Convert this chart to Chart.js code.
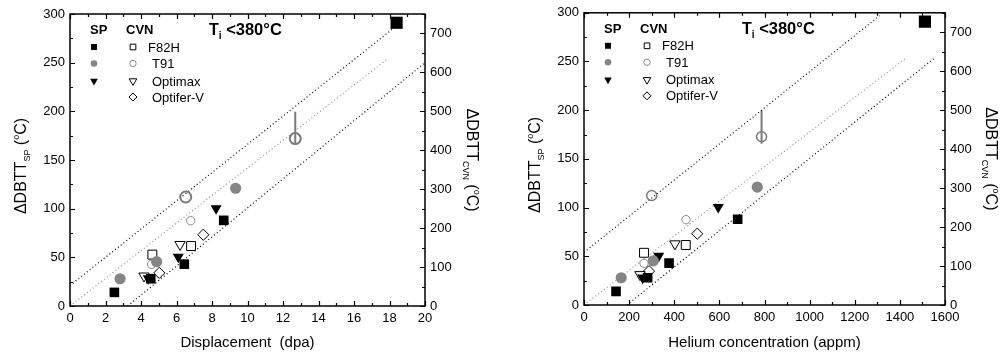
<!DOCTYPE html>
<html>
<head>
<meta charset="utf-8">
<script src="https://cdn.jsdelivr.net/npm/chart.js@4.4.0/dist/chart.umd.min.js"></script>
<style>
  html, body { margin: 0; padding: 0; background: #fff; }
  #wrap { position: relative; width: 1001px; height: 356px; }
  canvas { position: absolute; top: 0; }
  #c1 { left: 0; }
  #c2 { left: 500px; }
</style>
</head>
<body>
<div id="wrap">
  <canvas id="c1" width="500" height="356"></canvas>
  <canvas id="c2" width="501" height="356"></canvas>
</div>
<script>
/* ---------- data: displacement panel (dpa) ---------- */
// SP (左軸, °C)
const dpaF82hSP = [2.5, 4.55, 6.44, 8.66, 18.4];
const spF82hDpa = [14, 28, 43, 88, 291];
const dpaT91SP = [2.82, 4.88, 9.33];
const spT91Dpa = [28, 45.5, 121];
const dpaOptimaxSP = [4.41, 6.1, 8.23];
const spOptimaxDpa = [28.3, 50.5, 100.2];
// CVN (右軸, °C)
const dpaF82hCVN = [4.64, 6.82];
const cvnF82hDpa = [132, 154];
const dpaT91CVN = [4.6, 6.8];
const cvnT91Dpa = [107, 219];
const dpaT91CVNbig = [6.52, 12.69];
const cvnT91BigDpa = [280, 430];
const dpaOptimaxCVN = [4.17, 6.2];
const cvnOptimaxDpa = [77, 158];
const dpaOptiferCVN = [5.03, 7.51];
const cvnOptiferDpa = [85, 183];
// error bar (CVN)
const dpaErr = [12.69];
const errLoDpa = [414];
const errHiDpa = [499];
// trend lines (SP)
const dpaUpperLine = [0, 18.2];
const spUpperLine = [21, 285];
const dpaMidLine = [0, 17.9];
const spMidLine = [0, 254];
const dpaLowerLine = [3.25, 20];
const spLowerLine = [0, 250];

/* ---------- data: helium panel (appm) ---------- */
const heF82hSP = [142, 282, 377, 681, 1511];
const spF82hHe = [14, 28, 43, 88, 291];
const heT91SP = [165, 307, 768];
const spT91He = [28, 45.4, 121];
const heOptimaxSP = [260, 331, 595];
const spOptimaxHe = [28, 50.3, 100.5];
const heF82hCVN = [266, 451];
const cvnF82hHe = [134, 154];
const heT91CVN = [266, 452];
const cvnT91He = [107, 219];
const heT91CVNbig = [300, 787];
const cvnT91BigHe = [281, 432];
const heOptimaxCVN = [248, 403];
const cvnOptimaxHe = [78, 157];
const heOptiferCVN = [288, 502];
const cvnOptiferHe = [87, 183];
const heErr = [787];
const errLoHe = [414];
const errHiHe = [500];
const heUpperLine = [0, 1310];
const spUpperLineHe = [54, 297];
const heMidLine = [0, 1430];
const spMidLineHe = [0, 254];
const heLowerLine = [190, 1556];
const spLowerLineHe = [0, 254];

// 凡例
const legendNames = ["F82H", "T91", "Optimax", "Optifer-V"];

/* ---------- 共通 ---------- */
const FONT = '"Liberation Sans", Arial, Helvetica, sans-serif';
const GRAY = "#858585";

function pts(xs, ys) {
  return xs.map((x, i) => ({ x: x, y: ys[i] }));
}

function drawParts(ctx, parts, x, y, align) {
  // parts: [text, size, bold, dy]
  let w = 0;
  parts.forEach(p => {
    ctx.font = (p[2] ? "bold " : "") + p[1] + "px " + FONT;
    p.w = ctx.measureText(p[0]).width;
    w += p.w;
  });
  let cx = align === "center" ? x - w / 2 : x;
  ctx.textAlign = "left";
  ctx.textBaseline = "alphabetic";
  parts.forEach(p => {
    ctx.font = (p[2] ? "bold " : "") + p[1] + "px " + FONT;
    ctx.fillText(p[0], cx, y + (p[3] || 0));
    cx += p.w;
  });
}

function symbol(ctx, style, x, y) {
  ctx.save();
  ctx.fillStyle = style.fill;
  ctx.strokeStyle = style.stroke;
  ctx.lineWidth = style.bw;
  Chart.helpers.drawPoint(ctx, {
    pointStyle: style.shape,
    radius: style.r,
    rotation: style.rot || 0,
    borderWidth: style.bw
  }, x, y);
  ctx.restore();
}

function lineSet(xs, ys, color) {
  return {
    type: "line",
    data: pts(xs, ys),
    yAxisID: "y",
    borderColor: color,
    borderWidth: 1.2,
    borderDash: [1, 2.6],
    pointRadius: 0,
    fill: false,
    order: 10
  };
}

function buildPanel(canvas, cfg) {
  const datasets = [
    lineSet(cfg.upper[0], cfg.upper[1], "#000"),
    lineSet(cfg.mid[0], cfg.mid[1], "#8f8f8f"),
    lineSet(cfg.lower[0], cfg.lower[1], "#000"),
    { label: "F82H SP", data: pts(cfg.f82hSP[0], cfg.f82hSP[1]), yAxisID: "y",
      pointStyle: "rect", pointRadius: [6.8, 6.8, 6.8, 6.8, 8.6], backgroundColor: "#000", borderColor: "#000", borderWidth: 0 },
    { label: "T91 SP", data: pts(cfg.t91SP[0], cfg.t91SP[1]), yAxisID: "y",
      pointStyle: "circle", pointRadius: 5.6, backgroundColor: GRAY, borderColor: GRAY, borderWidth: 0 },
    { label: "Optimax SP", data: pts(cfg.optSP[0], cfg.optSP[1]), yAxisID: "y",
      pointStyle: "triangle", rotation: 180, pointRadius: 6.4, backgroundColor: "#000", borderColor: "#000", borderWidth: 0 },
    { label: "F82H CVN", data: pts(cfg.f82hCVN[0], cfg.f82hCVN[1]), yAxisID: "y2",
      pointStyle: "rect", pointRadius: 6.3, backgroundColor: "#fff", borderColor: "#000", borderWidth: 1 },
    { label: "T91 CVN", data: pts(cfg.t91CVN[0], cfg.t91CVN[1]), yAxisID: "y2",
      pointStyle: "circle", pointRadius: 4.2, backgroundColor: "#fff", borderColor: "#8a8a8a", borderWidth: 1 },
    { label: "T91 CVN big", data: pts(cfg.t91Big[0], cfg.t91Big[1]), yAxisID: "y2",
      pointStyle: "circle", pointRadius: cfg.bigR, backgroundColor: "rgba(255,255,255,0)", borderColor: "#7a7a7a", borderWidth: cfg.bigW },
    { label: "Optimax CVN", data: pts(cfg.optCVN[0], cfg.optCVN[1]), yAxisID: "y2",
      pointStyle: "triangle", rotation: 180, pointRadius: 6, backgroundColor: "#fff", borderColor: "#000", borderWidth: 1 },
    { label: "Optifer-V CVN", data: pts(cfg.optiferCVN[0], cfg.optiferCVN[1]), yAxisID: "y2",
      pointStyle: "rectRot", pointRadius: 5.6, backgroundColor: "#fff", borderColor: "#000", borderWidth: 1 }
  ];

  const tickFont = { family: FONT, size: 13 };

  const decor = {
    id: "decor",
    beforeDatasetsDraw(chart) {
      // エラーバー
      const ctx = chart.ctx;
      const xs = chart.scales.x, y2 = chart.scales.y2;
      ctx.save();
      ctx.strokeStyle = "#7a7a7a";
      ctx.lineWidth = 2;
      cfg.err[0].forEach((x, i) => {
        const px = xs.getPixelForValue(x);
        ctx.beginPath();
        ctx.moveTo(px, y2.getPixelForValue(cfg.err[1][i]));
        ctx.lineTo(px, y2.getPixelForValue(cfg.err[2][i]));
        ctx.stroke();
      });
      ctx.restore();
    },
    afterDraw(chart) {
      const ctx = chart.ctx;
      const a = chart.chartArea;
      const xs = chart.scales.x, ys = chart.scales.y, y2 = chart.scales.y2;
      ctx.save();
      // 枠
      ctx.strokeStyle = "#000";
      ctx.lineWidth = 1.5;
      ctx.strokeRect(a.left, a.top, a.right - a.left, a.bottom - a.top);
      // 目盛り (内向き)
      ctx.lineWidth = 1.2;
      ctx.beginPath();
      for (let v = 0; v <= cfg.xMax + 1e-9; v += cfg.xMinor) {
        const px = Math.round(xs.getPixelForValue(v)) + 0.5;
        const len = Math.abs(v / cfg.xStep - Math.round(v / cfg.xStep)) < 1e-6 ? 5 : 3;
        ctx.moveTo(px, a.bottom); ctx.lineTo(px, a.bottom - len);
        ctx.moveTo(px, a.top); ctx.lineTo(px, a.top + len);
      }
      for (let v = 0; v <= 300; v += 25) {
        const py = Math.round(ys.getPixelForValue(v)) + 0.5;
        const len = v % 50 === 0 ? 5 : 3;
        ctx.moveTo(a.left, py); ctx.lineTo(a.left + len, py);
      }
      for (let v = 0; v <= 750; v += 50) {
        const py = Math.round(y2.getPixelForValue(v)) + 0.5;
        const len = v % 100 === 0 ? 5 : 3;
        ctx.moveTo(a.right, py); ctx.lineTo(a.right - len, py);
      }
      ctx.stroke();

      ctx.fillStyle = "#000";
      // 軸タイトル
      drawParts(ctx, [[cfg.xTitle, 15, false]], (a.left + a.right) / 2, 347, "center");
      ctx.save();
      ctx.translate(cfg.leftTitleX, (a.top + a.bottom) / 2 + 6);
      ctx.rotate(-Math.PI / 2);
      drawParts(ctx, [["\u0394DBTT", 16, false], ["SP", 9, false, 4], [" (", 16, false], ["o", 9, false, -7], ["C)", 16, false]], 0, 0, "center");
      ctx.restore();
      ctx.save();
      ctx.translate(cfg.rightTitleX, (a.top + a.bottom) / 2);
      ctx.rotate(Math.PI / 2);
      drawParts(ctx, [["\u0394DBTT", 16, false], ["CVN", 9, false, 4], [" (", 16, false], ["o", 9, false, -7], ["C)", 16, false]], 0, 0, "center");
      ctx.restore();

      // T_i<380°C
      drawParts(ctx, [["T", 16, true], ["i", 10, true, 4], [" <380\u00b0C", 16.5, true]], a.left + cfg.tiX, a.top + 21, "left");

      // 凡例
      drawParts(ctx, [["SP", 13, true]], a.left + 20, a.top + 20, "left");
      drawParts(ctx, [["CVN", 13, true]], a.left + 56, a.top + 20, "left");
      const rows = [33, 49.5, 67, 83];
      const spStyles = [
        { shape: "rect", r: 4.2, fill: "#000", stroke: "#000", bw: 0 },
        { shape: "circle", r: 3.3, fill: GRAY, stroke: GRAY, bw: 0 },
        { shape: "triangle", rot: 180, r: 4.4, fill: "#000", stroke: "#000", bw: 0 }
      ];
      const cvnStyles = [
        { shape: "rect", r: 4, fill: "#fff", stroke: "#000", bw: 1 },
        { shape: "circle", r: 3.2, fill: "#fff", stroke: "#8a8a8a", bw: 1 },
        { shape: "triangle", rot: 180, r: 4.4, fill: "#fff", stroke: "#000", bw: 1 },
        { shape: "rectRot", r: 4, fill: "#fff", stroke: "#000", bw: 1 }
      ];
      spStyles.forEach((s, i) => symbol(ctx, s, a.left + 24, a.top + rows[i]));
      cvnStyles.forEach((s, i) => symbol(ctx, s, a.left + 63, a.top + rows[i]));
      ctx.fillStyle = "#000";
      legendNames.forEach((n, i) => {
        drawParts(ctx, [[n, 13, false]], a.left + (i === 0 ? 78 : 82), a.top + rows[i] + 4.5, "left");
      });
      ctx.restore();
    }
  };

  return new Chart(canvas, {
    type: "scatter",
    data: { datasets },
    options: {
      responsive: false,
      animation: false,
      layout: { padding: { top: cfg.padTop, left: 0, right: 0, bottom: 0 } },
      plugins: { legend: { display: false }, tooltip: { enabled: false } },
      scales: {
        x: {
          type: "linear", position: "bottom", min: 0, max: cfg.xMax,
          grid: { display: false, drawTicks: false },
          border: { display: false },
          ticks: { stepSize: cfg.xStep, font: tickFont, color: "#000", padding: 5, maxRotation: 0, autoSkip: false,
                   callback: v => String(v) },
          afterFit: s => { s.height = cfg.bottomH; }
        },
        y: {
          type: "linear", position: "left", min: 0, max: 300,
          grid: { display: false, drawTicks: false },
          border: { display: false },
          ticks: { stepSize: 50, font: tickFont, color: "#000", padding: 5 },
          afterFit: s => { s.width = cfg.leftW; }
        },
        y2: {
          type: "linear", position: "right", min: 0, max: 750,
          grid: { display: false, drawTicks: false },
          border: { display: false },
          ticks: { stepSize: 100, font: tickFont, color: "#000", padding: 5 },
          afterBuildTicks: s => { s.ticks = s.ticks.filter(t => t.value % 100 === 0); },
          afterFit: s => { s.width = cfg.rightW; }
        }
      }
    },
    plugins: [decor]
  });
}

buildPanel(document.getElementById("c1"), {
  f82hSP: [dpaF82hSP, spF82hDpa], t91SP: [dpaT91SP, spT91Dpa], optSP: [dpaOptimaxSP, spOptimaxDpa],
  f82hCVN: [dpaF82hCVN, cvnF82hDpa], t91CVN: [dpaT91CVN, cvnT91Dpa], t91Big: [dpaT91CVNbig, cvnT91BigDpa],
  optCVN: [dpaOptimaxCVN, cvnOptimaxDpa], optiferCVN: [dpaOptiferCVN, cvnOptiferDpa],
  err: [dpaErr, errLoDpa, errHiDpa],
  upper: [dpaUpperLine, spUpperLine], mid: [dpaMidLine, spMidLine], lower: [dpaLowerLine, spLowerLine],
  bigR: 5.5, bigW: 2,
  xMax: 20, xStep: 2, xMinor: 1, xTitle: "Displacement  (dpa)",
  padTop: 14, leftW: 70, rightW: 75, bottomH: 50,
  leftTitleX: 26, rightTitleX: 467, tiX: 139
});

buildPanel(document.getElementById("c2"), {
  f82hSP: [heF82hSP, spF82hHe], t91SP: [heT91SP, spT91He], optSP: [heOptimaxSP, spOptimaxHe],
  f82hCVN: [heF82hCVN, cvnF82hHe], t91CVN: [heT91CVN, cvnT91He], t91Big: [heT91CVNbig, cvnT91BigHe],
  optCVN: [heOptimaxCVN, cvnOptimaxHe], optiferCVN: [heOptiferCVN, cvnOptiferHe],
  err: [heErr, errLoHe, errHiHe],
  upper: [heUpperLine, spUpperLineHe], mid: [heMidLine, spMidLineHe], lower: [heLowerLine, spLowerLineHe],
  bigR: 5, bigW: 1.5,
  xMax: 1600, xStep: 200, xMinor: 100, xTitle: "Helium concentration (appm)",
  padTop: 12, leftW: 84, rightW: 56, bottomH: 51,
  leftTitleX: 40, rightTitleX: 486, tiX: 158
});
</script>
</body>
</html>
